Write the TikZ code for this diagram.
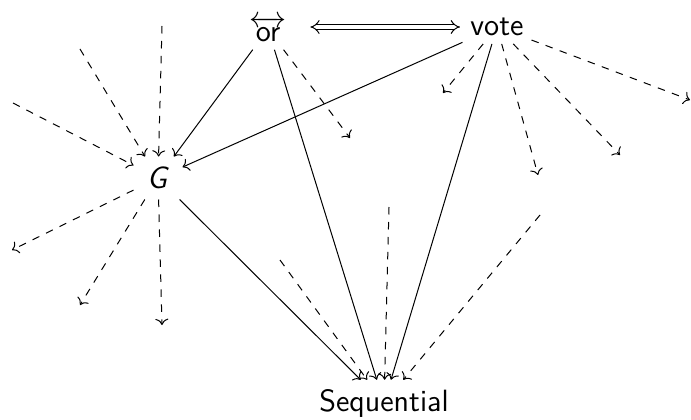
\documentclass[tikz,border=0pt]{standalone}
\usepackage{amsmath}
\usetikzlibrary{cd,arrows.meta}
\begin{document}
\begin{tikzpicture}[x=0.4pt,y=-0.4pt,
  lbl/.style={font=\sffamily\fontsize{12.3}{14}\selectfont, inner sep=3pt},
  sol/.style={-cm to},
  dsh/.style={-cm to, dashed},
  dbl/.style={double equal sign distance, double, {Implies}-{Implies}}]
\useasboundingbox (0,0) rectangle (691,419);
% nodes
\node[lbl] (or) at (268,29) {$\overleftrightarrow{\textsf{or}}$};
\node[lbl] (vote) at (497,27) {vote};
\node[lbl, minimum width=19.2pt, minimum height=16.8pt] (G) at (158,178) {\textit{G}};
\node[lbl, inner sep=3.5pt] (seq) at (384,403) {Sequential};
% free ends
\coordinate (g1) at (162,26);
\coordinate (g2) at (80,49);
\coordinate (g3) at (13,103);
\coordinate (g4) at (12,250);
\coordinate (g5) at (80,305);
\coordinate (g6) at (162,325);
\coordinate (o1) at (350,138);
\coordinate (v1) at (443,93);
\coordinate (v2) at (538,175);
\coordinate (v3) at (620,155);
\coordinate (v4) at (690,100);
\coordinate (s1) at (280,260);
\coordinate (s2) at (389,207);
\coordinate (s3) at (540,215);
% double arrow
\draw[dbl, shorten <=6.4pt, shorten >=1pt] (or.east |- vote.west) -- (vote.west);
% solid connectors
\draw[sol] (or) -- (G);
\draw[sol] (vote) -- (G);
\draw[sol] (G) -- (seq);
\draw[sol] (or) -- (seq);
\draw[sol] (vote) -- (seq);
% dashed into G
\draw[dsh] (g1) -- (G);
\draw[dsh] (g2) -- (G);
\draw[dsh] (g3) -- (G);
% dashed out of G
\draw[dsh] (G) -- (g4);
\draw[dsh] (G) -- (g5);
\draw[dsh] (G) -- (g6);
% dashed out of or
\draw[dsh] (or) -- (o1);
% dashed out of vote
\draw[dsh] (vote) -- (v1);
\draw[dsh] (vote) -- (v2);
\draw[dsh] (vote) -- (v3);
\draw[dsh] (vote) -- (v4);
% dashed into Sequential
\draw[dsh] (s1) -- (seq);
\draw[dsh] (s2) -- (seq);
\draw[dsh] (s3) -- (seq);
\end{tikzpicture}
\end{document}
